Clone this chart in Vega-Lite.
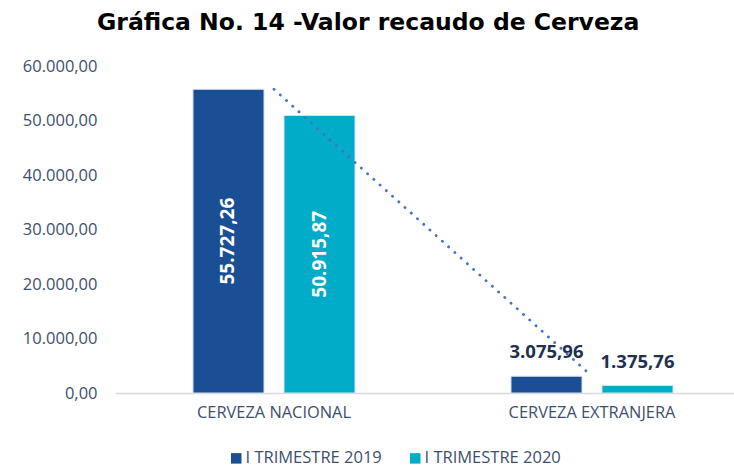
{
  "$schema": "https://vega.github.io/schema/vega-lite/v6.json",
  "autosize": {"type": "none"},
  "padding": {"left": 115, "top": 66, "right": 0, "bottom": 77},
  "width": 636,
  "height": 327,
  "title": {
    "text": "Gráfica No. 14 -Valor recaudo de Cerveza",
    "font": "DejaVu Sans",
    "fontSize": 23.5,
    "fontWeight": "bold",
    "color": "#000000",
    "anchor": "start",
    "frame": "group",
    "dx": -18,
    "offset": 24
  },
  "data": {
    "values": [
      {"cat": "CERVEZA NACIONAL", "serie": "I TRIMESTRE 2019", "valor": 55727.26},
      {"cat": "CERVEZA NACIONAL", "serie": "I TRIMESTRE 2020", "valor": 50915.87},
      {"cat": "CERVEZA EXTRANJERA", "serie": "I TRIMESTRE 2019", "valor": 3075.96},
      {"cat": "CERVEZA EXTRANJERA", "serie": "I TRIMESTRE 2020", "valor": 1375.76}
    ]
  },
  "encoding": {
    "x": {
      "field": "cat",
      "type": "nominal",
      "sort": ["CERVEZA NACIONAL", "CERVEZA EXTRANJERA"],
      "scale": {"paddingInner": 0, "paddingOuter": 0},
      "axis": {
        "title": null,
        "labelAngle": 0,
        "ticks": false,
        "domainColor": "#d9d9d9",
        "domainWidth": 1.5,
        "labelFont": "Open Sans",
        "labelFontSize": 16.4,
        "labelColor": "#404f6e",
        "labelPadding": 11
      }
    },
    "y": {
      "field": "valor",
      "type": "quantitative",
      "scale": {"domain": [0, 60000], "nice": false},
      "axis": {
        "title": null,
        "values": [0, 10000, 20000, 30000, 40000, 50000, 60000],
        "format": ",.2f",
        "grid": false,
        "domain": false,
        "ticks": false,
        "labelPadding": 18,
        "labelFont": "Open Sans",
        "labelFontSize": 16.5,
        "labelColor": "#404f6e"
      }
    }
  },
  "layer": [
    {
      "mark": {"type": "bar", "stroke": "#d6e0ec", "strokeWidth": 1},
      "encoding": {
        "xOffset": {
          "field": "serie",
          "type": "nominal",
          "scale": {"paddingInner": 0.2198, "paddingOuter": 0.857}
        },
        "color": {
          "field": "serie",
          "type": "nominal",
          "scale": {"range": ["#1a4f95", "#00acc8"]},
          "legend": {
            "title": null,
            "orient": "none",
            "direction": "horizontal",
            "legendX": 113,
            "legendY": 384,
            "symbolType": "square",
            "symbolSize": 110,
            "symbolStrokeWidth": 0,
            "labelFont": "Open Sans",
            "labelFontSize": 16.5,
            "labelColor": "#404f6e",
            "labelOffset": 1,
            "columnPadding": 25
          }
        }
      }
    },
    {
      "transform": [
        {"filter": "datum.cat == 'CERVEZA NACIONAL'"},
        {"calculate": "datum.valor / 2", "as": "mid"}
      ],
      "mark": {
        "type": "text",
        "angle": 270,
        "color": "#ffffff",
        "font": "Open Sans",
        "fontSize": 19,
        "fontWeight": "bold",
        "align": "center",
        "baseline": "middle"
      },
      "encoding": {
        "xOffset": {"field": "serie", "type": "nominal", "scale": {"paddingInner": 0.2198, "paddingOuter": 0.857}},
        "y": {"field": "mid", "type": "quantitative"},
        "text": {"field": "valor", "type": "quantitative", "format": ",.2f"}
      }
    },
    {
      "transform": [{"filter": "datum.cat == 'CERVEZA EXTRANJERA'"}],
      "mark": {
        "type": "text",
        "color": "#1f3050",
        "font": "Open Sans",
        "fontSize": 18.5,
        "fontWeight": "bold",
        "align": "center",
        "baseline": "alphabetic",
        "dy": -18
      },
      "encoding": {
        "xOffset": {"field": "serie", "type": "nominal", "scale": {"paddingInner": 0.2198, "paddingOuter": 0.857}},
        "text": {"field": "valor", "type": "quantitative", "format": ",.2f"}
      }
    },
    {
      "transform": [{"filter": "datum.serie == 'I TRIMESTRE 2019'"}],
      "mark": {
        "type": "line",
        "color": "#4472c4",
        "strokeWidth": 2.8,
        "strokeCap": "round",
        "strokeDash": [0.1, 8.3]
      },
      "encoding": {}
    }
  ],
  "config": {
    "view": {"stroke": null},
    "locale": {
      "number": {"decimal": ",", "thousands": ".", "grouping": [3], "currency": ["", ""]}
    }
  }
}
